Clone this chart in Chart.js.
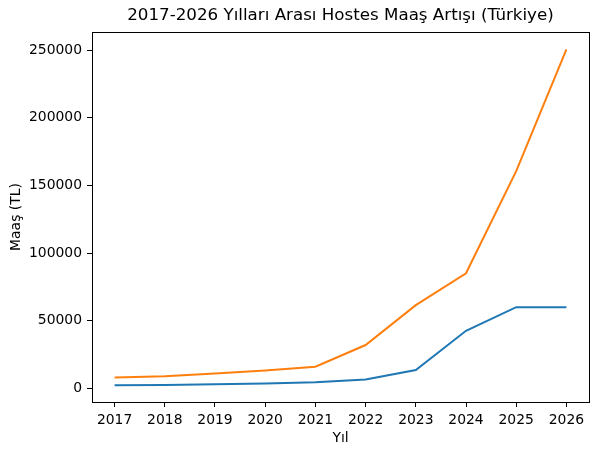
<!DOCTYPE html>
<html>
<head>
<meta charset="utf-8">
<script src="https://cdn.jsdelivr.net/npm/chart.js@4/dist/chart.umd.min.js"></script>
<style>
  html, body { margin: 0; padding: 0; background: #fff; }
  #wrap { width: 597px; height: 455px; }
</style>
</head>
<body>
<div id="wrap"><canvas id="salaryChart" width="597" height="455"></canvas></div>
<script>
(function() {
    'use strict';

    // Data
    const years = [2017, 2018, 2019, 2020, 2021, 2022, 2023, 2024, 2025, 2026];
    const lowSalary = [2300, 2500, 3000, 3500, 4500, 6500, 13500, 42500, 60000, 60000];
    const highSalary = [8000, 9000, 11000, 13200, 16000, 32000, 61500, 85000, 160500, 250500];
    const yTicks = [0, 50000, 100000, 150000, 200000, 250000];

    const FONT = "'DejaVu Sans', sans-serif";

    // Full box around the plot area (matplotlib style)
    const frameBox = {
        id: 'frameBox',
        afterDraw(chart) {
            const a = chart.chartArea;
            const ctx = chart.ctx;
            ctx.save();
            ctx.strokeStyle = '#000';
            ctx.lineWidth = 1;
            ctx.strokeRect(Math.round(a.left) + 0.5, Math.round(a.top) + 0.5,
                Math.round(a.right - a.left), Math.round(a.bottom - a.top));
            ctx.restore();
        }
    };

    function toPoints(values) {
        return years.map((y, i) => ({ x: y, y: values[i] }));
    }

    const ctx = document.getElementById('salaryChart');
    new Chart(ctx, {
        type: 'line',
        data: {
            datasets: [{
                label: 'Asgari Maaş',
                data: toPoints(lowSalary),
                borderColor: '#1f77b4',
                borderWidth: 2,
                pointRadius: 0,
                tension: 0,
                fill: false
            }, {
                label: 'Azami Maaş',
                data: toPoints(highSalary),
                borderColor: '#ff7f0e',
                borderWidth: 2,
                pointRadius: 0,
                tension: 0,
                fill: false
            }]
        },
        options: {
            responsive: false,
            animation: false,
            devicePixelRatio: 1,
            layout: { padding: { left: 0, right: 8, top: 0, bottom: 0 } },
            plugins: {
                legend: { display: false },
                tooltip: { enabled: false },
                title: {
                    display: true,
                    fullSize: false,
                    text: '2017-2026 Yılları Arası Hostes Maaş Artışı (Türkiye)',
                    color: '#000',
                    font: { family: FONT, size: 16.7, weight: 'normal' },
                    padding: { top: 6, bottom: 6 }
                }
            },
            scales: {
                x: {
                    type: 'linear',
                    min: 2016.55,
                    max: 2026.45,
                    afterBuildTicks: (scale) => { scale.ticks = years.map(v => ({ value: v })); },
                    afterFit: (scale) => { scale.height = 53; },
                    grid: { display: true, drawOnChartArea: false, drawTicks: true, tickLength: 5, color: '#000' },
                    border: { display: false },
                    ticks: {
                        color: '#000',
                        padding: 5,
                        maxRotation: 0,
                        font: { family: FONT, size: 13.9 },
                        callback: (v) => String(v)
                    },
                    title: {
                        display: true,
                        text: 'Yıl',
                        color: '#000',
                        font: { family: FONT, size: 13.9 },
                        padding: { top: 0, bottom: 8 }
                    }
                },
                y: {
                    min: -10100,
                    max: 263300,
                    afterBuildTicks: (scale) => { scale.ticks = yTicks.map(v => ({ value: v })); },
                    afterFit: (scale) => { scale.width = 92; },
                    grid: { display: true, drawOnChartArea: false, drawTicks: true, tickLength: 5, color: '#000' },
                    border: { display: false },
                    ticks: {
                        color: '#000',
                        padding: 5,
                        font: { family: FONT, size: 13.9 },
                        callback: (v) => String(v)
                    },
                    title: {
                        display: true,
                        text: 'Maaş (TL)',
                        color: '#000',
                        font: { family: FONT, size: 13.9 },
                        padding: { top: 8, bottom: 0 }
                    }
                }
            }
        },
        plugins: [frameBox]
    });
})();
</script>
</body>
</html>
